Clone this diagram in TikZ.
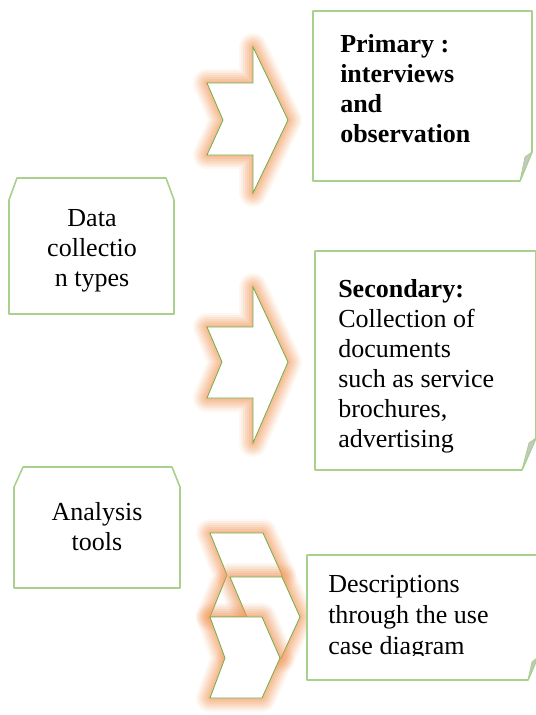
\documentclass[tikz,border=0pt]{standalone}
\usepackage{fontspec}
\setmainfont{Liberation Serif}
\definecolor{glodfarge}{HTML}{F29A5E}
\definecolor{kantfarge}{HTML}{A9D18E}
\definecolor{pilkant}{HTML}{70AD47}

\begin{document}
\begin{tikzpicture}[x=0.75pt, y=-0.75pt,
 kant/.style  = {draw=kantfarge, line width=1.2pt, fill=white, line join=round},
 brett/.style = {fill=gray!45, draw=kantfarge, line width=0.6pt},
 glod/.style  = {preaction={draw=glodfarge, draw opacity=.08, line width=21pt, line join=round},
                 preaction={draw=glodfarge, draw opacity=.10, line width=18pt, line join=round},
                 preaction={draw=glodfarge, draw opacity=.12, line width=15pt, line join=round},
                 preaction={draw=glodfarge, draw opacity=.14, line width=12pt, line join=round},
                 preaction={draw=glodfarge, draw opacity=.16, line width=9pt, line join=round},
                 preaction={draw=glodfarge, draw opacity=.18, line width=6pt, line join=round},
                 preaction={draw=glodfarge, draw opacity=.20, line width=3pt, line join=round},
                 fill=white, draw=pilkant, line width=0.6pt},
 tekst/.style = {font=\fontsize{19.5}{22.5}\selectfont, align=left, inner sep=0pt}
                    ]
\useasboundingbox (0,0) rectangle (536,715);
% left boxes
\draw[kant] (9,314) -- (9,200) -- (17,178) -- (166,178) -- (174,200) -- (174,314) -- cycle;
\draw[kant] (14,588) -- (14,487) -- (23,467) -- (172,467) -- (180,487) -- (180,588) -- cycle;
\node[tekst, align=center, anchor=north] (datatyper) at (92,209) {Data\\collectio\\n types};
\node[tekst, align=center, anchor=north] (analyse)   at (97,502) {Analysis\\tools};
% arrows
\draw[glod] (207,83) -- (253,83) -- (253,47) -- (288,120) -- (253,193)
            -- (253,155) -- (207,155) -- (223,120) -- cycle;
\draw[glod] (207,327) -- (253,327) -- (253,287) -- (288,362) -- (253,443)
            -- (253,398) -- (207,398) -- (222,362) -- cycle;
% chevrons
\draw[glod] (210,533) -- (263,533) -- (282,575) -- (263,617) -- (210,617) -- (227,575) -- cycle;
\draw[glod] (230,577) -- (282,577) -- (300,617) -- (281,658) -- (230,658) -- (247,617) -- cycle;
\draw[glod] (210,617) -- (262,617) -- (280,658) -- (262,698) -- (210,698) -- (225,658) -- cycle;
% right boxes
\draw[kant] (313,11) -- (532,11) -- (532,152) -- (520,181) -- (313,181) -- cycle;
\draw[brett] (532,152) -- (525,157) -- (520,181) -- cycle;
\draw[kant] (315,251) -- (536,251) -- (536,438) -- (522,470) -- (315,470) -- cycle;
\draw[brett] (536,438) -- (529,443) -- (522,470) -- cycle;
\draw[kant] (307,555) -- (540,555) -- (540,652) -- (528,680) -- (307,680) -- cycle;
\draw[brett] (537,658) -- (532,662) -- (528,680) -- cycle;
\node[tekst, font=\fontsize{19.5}{22.5}\selectfont\bfseries, anchor=north west] (primaer) at (340,34)
     {Primary :\\interviews\\and\\observation};
\node[tekst, anchor=north west] (sekundaer) at (338,279)
     {\textbf{Secondary:}\\Collection of\\documents\\such as service\\brochures,\\advertising};
\begin{scope}
\clip (300,560) rectangle (536,655);
\node[tekst, font=\fontsize{19.5}{23.25}\selectfont, anchor=north west] (beskrivelse) at (328,575)
     {Descriptions\\through the use\\case diagram};
\end{scope}
\end{tikzpicture}
\end{document}
